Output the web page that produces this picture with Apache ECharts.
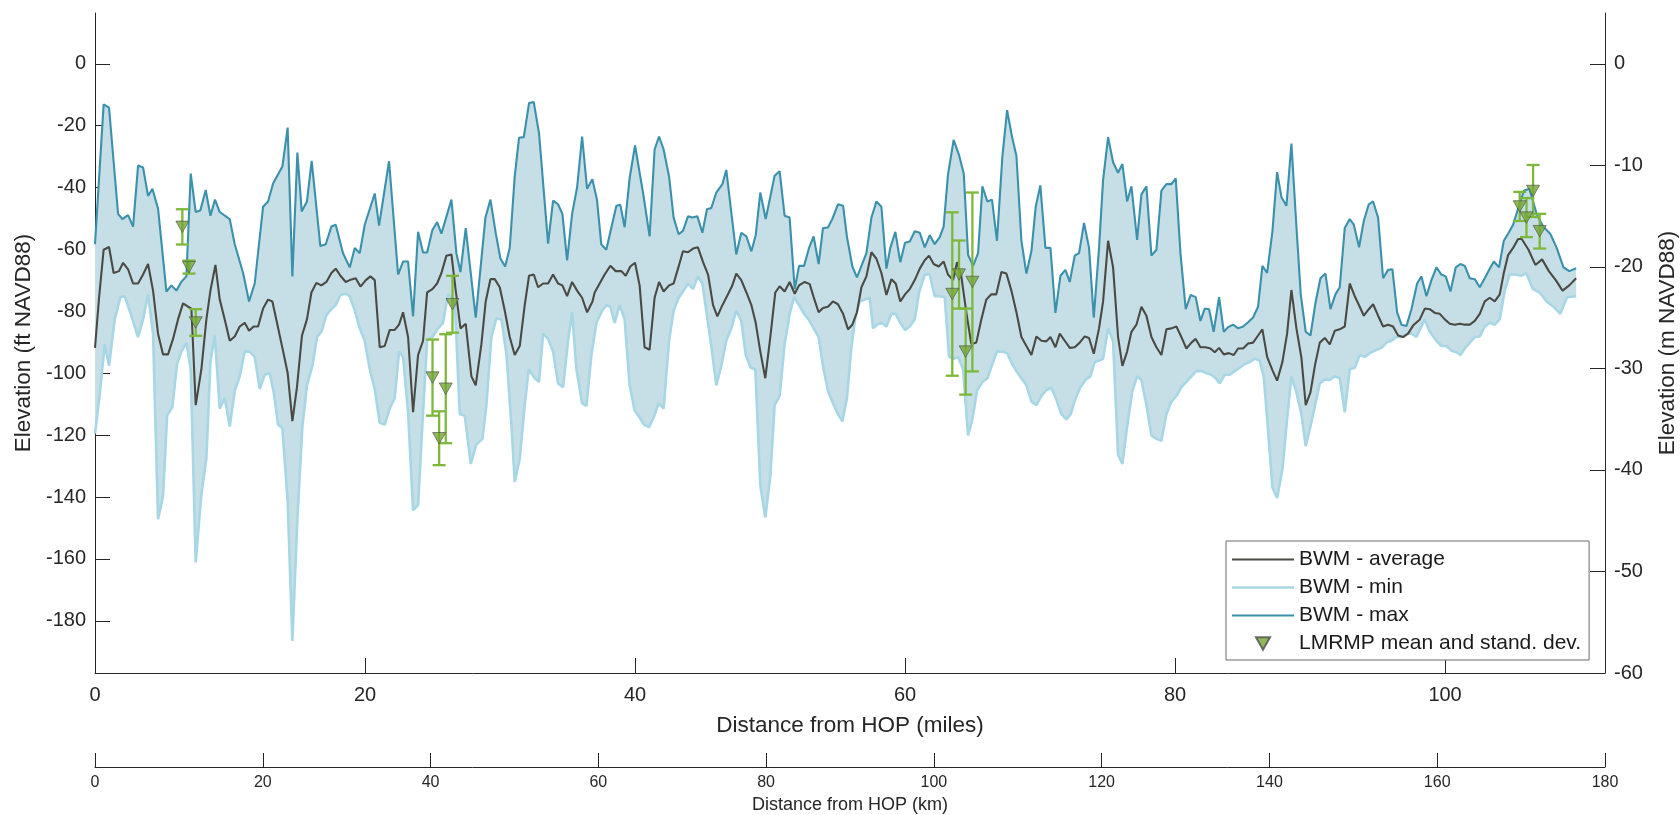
<!DOCTYPE html>
<html><head><meta charset="utf-8">
<script src="https://cdn.jsdelivr.net/npm/echarts@6/dist/echarts.min.js"></script>
<style>html,body{margin:0;padding:0;background:#fff}#c{width:1680px;height:815px}</style>
</head><body><div id="c"></div>
<script>
// ---- data (miles / feet) ----
const maxMi = [0,0.64,1.04,1.71,2.03,2.45,2.82,3.19,3.56,3.93,4.25,4.67,5.29,5.66,6.03,6.40,6.77,7.09,7.46,7.80,8.20,8.55,8.89,9.24,9.98,10.35,10.97,11.41,11.83,12.45,12.82,13.19,13.88,14.27,14.62,14.99,15.31,15.70,16.05,16.69,17.09,17.51,17.83,18.37,18.87,19.24,19.61,19.98,20.72,21.04,21.78,22.45,22.82,23.19,23.56,23.93,24.30,24.60,24.99,25.34,25.66,26.40,26.77,27.07,27.46,28.20,28.92,29.29,29.69,30.03,30.38,30.72,31.09,31.41,31.76,32.15,32.50,32.89,33.56,33.93,34.30,34.62,34.97,35.34,35.71,36.08,36.45,36.84,37.18,37.50,37.87,38.24,38.62,38.91,39.23,39.60,40.00,40.59,41.08,41.45,41.78,42.12,42.52,42.86,43.23,43.55,43.92,44.25,44.62,44.99,45.33,45.65,46.02,46.47,46.76,47.13,47.50,47.87,48.25,48.62,48.94,49.28,49.68,50.34,50.71,51.08,51.45,51.83,52.15,52.52,52.89,53.23,53.60,53.92,54.29,54.61,55.03,55.41,55.70,56.10,56.44,56.77,57.14,57.51,57.88,58.25,58.62,58.91,59.28,59.65,60.00,60.35,60.72,61.09,61.46,61.83,62.20,62.57,62.86,63.18,63.60,64.00,64.35,64.67,65.04,65.41,65.73,66.10,66.44,66.81,67.21,67.56,67.93,68.25,68.62,68.99,69.36,69.68,70.02,70.40,70.77,71.14,71.51,71.88,72.20,72.57,72.89,73.26,73.63,73.98,74.37,74.67,75.04,75.41,75.78,76.10,76.45,76.77,77.19,77.51,77.88,78.25,78.62,78.99,79.36,79.73,80.05,80.40,80.79,81.16,81.53,81.88,82.20,82.52,82.86,83.26,83.61,83.93,84.30,84.67,85.04,85.41,85.78,86.15,86.47,86.82,87.21,87.56,87.88,88.25,88.62,88.99,89.31,89.68,90.03,90.42,90.77,91.14,91.51,91.88,92.20,92.57,92.94,93.24,93.63,93.98,94.35,94.67,95.04,95.41,95.78,96.10,96.45,96.77,97.14,97.51,97.93,98.25,98.62,98.99,99.36,99.73,100.05,100.40,100.79,101.14,101.46,101.83,102.20,102.57,102.94,103.31,103.61,104.00,104.35,104.67,105.04,105.41,105.84,106.25,106.78,107.26,107.79,108.27,108.77,109.20,109.71];
const maxFt = [-58.3,-13.1,-14.2,-48.5,-50.2,-48.9,-52.6,-32.9,-33.5,-42.7,-40.4,-46.8,-73.6,-71.6,-73.3,-70.4,-68.7,-35.5,-47.9,-47.4,-40.8,-49.1,-43.9,-47.9,-50.2,-58.3,-67.6,-76.8,-71.0,-46.2,-44.5,-38.7,-33.2,-20.6,-68.7,-28.7,-47.7,-44.5,-31.4,-58.9,-58.3,-52.6,-52.0,-61.2,-65.8,-59.5,-61.2,-52.0,-41.9,-52.3,-31.5,-68.1,-63.9,-63.9,-81.6,-54.3,-61.0,-61.0,-53.7,-51.2,-54.9,-43.9,-61.2,-67.3,-53.1,-82.0,-49.7,-43.9,-54.9,-62.9,-65.5,-59.5,-36.4,-23.9,-23.7,-12.7,-12.4,-22.5,-58.1,-44.2,-45.4,-48.5,-63.5,-48.5,-39.9,-23.5,-40.4,-37.3,-43.9,-58.3,-60.1,-53.1,-45.9,-45.6,-52.8,-37.0,-26.4,-41.6,-55.8,-27.7,-23.5,-27.7,-36.4,-49.7,-55.1,-54.0,-49.3,-49.7,-49.3,-54.6,-47.0,-46.6,-41.6,-38.9,-34.3,-47.9,-61.6,-54.6,-55.8,-60.6,-55.4,-41.6,-50.2,-36.2,-34.7,-49.1,-49.7,-72.8,-65.3,-65.3,-59.5,-55.8,-64.7,-53.1,-52.9,-50.2,-45.4,-45.9,-56.0,-65.5,-69.0,-65.3,-61.2,-49.7,-44.5,-46.2,-66.2,-59.5,-54.3,-64.1,-57.8,-57.4,-54.1,-54.6,-59.3,-55.4,-58.3,-56.0,-52.6,-35.8,-24.6,-29.5,-35.5,-61.8,-65.3,-61.2,-39.6,-44.5,-43.9,-57.2,-30.0,-15.0,-23.7,-29.7,-57.2,-67.8,-60.6,-46.2,-39.3,-59.5,-59.5,-80.5,-68.5,-66.6,-70.5,-62.0,-61.2,-51.4,-59.5,-82.0,-59.5,-37.6,-23.7,-31.8,-35.2,-32.4,-44.5,-39.6,-56.9,-42.2,-39.6,-62.0,-60.1,-41.0,-38.9,-38.9,-37.0,-61.2,-79.3,-74.7,-75.4,-83.1,-79.1,-79.3,-86.6,-75.4,-86.6,-85.1,-84.3,-85.5,-84.9,-83.5,-82.0,-78.5,-65.3,-67.6,-54.3,-35.0,-43.1,-45.9,-25.8,-52.6,-74.5,-86.6,-87.8,-76.8,-69.3,-67.8,-79.3,-74.5,-72.2,-53.1,-50.2,-52.0,-59.3,-50.8,-45.4,-44.5,-49.7,-69.3,-66.6,-66.4,-80.3,-84.3,-84.7,-79.3,-71.0,-68.7,-75.1,-69.9,-65.8,-68.1,-68.7,-73.6,-65.8,-64.7,-65.3,-69.3,-69.6,-72.2,-69.3,-66.2,-63.9,-65.8,-57.2,-54.9,-52.0,-46.8,-41.0,-40.4,-48.5,-52.6,-54.9,-59.5,-65.8,-67.0,-66.1];

const minMi = [0,0.35,0.72,1.04,1.46,1.88,2.20,2.69,3.19,3.56,3.93,4.30,4.67,5.04,5.34,5.73,6.08,6.40,6.77,7.09,7.46,7.88,8.25,8.55,8.87,9.24,9.61,9.98,10.35,10.72,11.09,11.46,11.83,12.20,12.57,12.94,13.24,13.56,13.88,14.27,14.62,14.99,15.36,15.70,16.10,16.45,16.77,17.14,17.51,17.83,18.18,18.57,18.87,19.24,19.61,19.98,20.35,20.72,21.09,21.46,21.83,22.20,22.52,22.82,23.19,23.56,23.93,24.25,24.60,24.99,25.41,25.78,26.15,26.65,27.02,27.39,27.83,28.25,28.70,28.99,29.36,29.73,30.11,30.48,30.85,31.09,31.46,31.83,32.13,32.57,32.89,33.19,33.56,33.93,34.30,34.67,35.04,35.34,35.66,36.08,36.40,36.77,37.14,37.58,37.87,38.17,38.49,38.86,39.23,39.60,39.97,40.29,40.66,41.04,41.38,41.75,42.12,42.52,42.86,43.23,43.60,43.92,44.30,44.66,44.99,45.33,45.65,46.02,46.39,46.76,47.13,47.50,47.87,48.20,48.57,48.91,49.28,49.65,50.02,50.34,50.71,51.08,51.45,51.78,52.15,52.52,52.86,53.23,53.60,53.92,54.29,54.66,55.03,55.36,55.70,56.02,56.34,56.64,57.01,57.38,57.63,57.93,58.25,58.62,58.99,59.31,59.65,60.00,60.35,60.72,61.04,61.46,61.83,62.20,62.57,62.94,63.26,63.60,63.93,64.30,64.67,64.99,65.33,65.73,66.10,66.47,66.81,67.21,67.56,67.93,68.25,68.62,68.99,69.36,69.73,70.10,70.47,70.84,71.21,71.58,71.95,72.27,72.64,72.99,73.36,73.73,74.05,74.37,74.67,75.04,75.41,75.78,76.10,76.45,76.84,77.19,77.51,77.88,78.25,78.62,78.99,79.36,79.73,80.10,80.47,80.84,81.21,81.58,81.95,82.32,82.69,83.01,83.31,83.68,84.05,84.42,84.79,85.16,85.53,85.90,86.27,86.57,86.89,87.21,87.56,87.95,88.30,88.62,88.99,89.36,89.68,90.03,90.37,90.72,91.09,91.46,91.83,92.20,92.57,92.94,93.31,93.68,94.05,94.42,94.92,95.29,95.66,96.03,96.40,96.77,97.14,97.51,97.88,98.50,98.87,99.36,99.73,100.10,100.47,100.84,101.14,101.46,101.83,102.20,102.57,102.94,103.31,103.68,104.05,104.42,104.79,105.16,105.68,106.01,106.51,107.01,107.52,108.03,108.54,109.04,109.71];
const minFt = [-119.5,-106.8,-90.6,-97.6,-82.6,-75.4,-75.1,-81.4,-88.3,-82.6,-74.5,-87.2,-147.2,-139.7,-113.7,-110.9,-97.0,-93.0,-90.1,-98.7,-161.1,-139.1,-127.6,-96.4,-87.8,-111.4,-108.0,-117.2,-105.7,-101.0,-93.0,-93.0,-94.7,-105.1,-100.5,-99.9,-106.2,-116.6,-117.8,-141.4,-186.5,-147.2,-117.2,-103.9,-97.6,-88.3,-86.6,-81.2,-79.3,-78.0,-74.7,-74.3,-75.1,-79.7,-85.5,-89.5,-98.7,-105.1,-116.0,-116.6,-111.4,-108.0,-93.0,-94.7,-112.6,-144.3,-142.6,-116.6,-89.5,-88.3,-85.5,-83.7,-74.5,-76.8,-113.2,-113.7,-129.3,-123.0,-121.2,-110.3,-88.3,-82.3,-82.6,-94.1,-117.2,-135.1,-127.6,-110.3,-98.7,-101.6,-102.8,-87.2,-88.9,-93.0,-103.3,-104.5,-89.5,-80.3,-98.7,-109.7,-110.5,-94.1,-83.7,-79.7,-78.0,-78.5,-83.7,-78.0,-82.6,-103.9,-112.0,-114.0,-116.6,-117.4,-114.3,-109.7,-111.4,-89.5,-79.7,-75.7,-73.3,-71.0,-72.8,-68.7,-71.0,-81.4,-91.2,-103.9,-97.6,-89.5,-85.5,-79.7,-83.1,-94.1,-98.2,-98.7,-136.2,-146.6,-133.4,-110.3,-107.4,-90.6,-80.8,-75.4,-78.0,-80.8,-82.6,-85.5,-88.3,-97.6,-105.7,-109.7,-113.2,-115.5,-108.0,-91.8,-81.4,-76.8,-76.2,-75.6,-85.5,-84.3,-83.7,-84.9,-80.8,-80.8,-83.7,-86.0,-84.9,-82.6,-73.9,-68.1,-68.1,-75.1,-75.1,-75.4,-94.7,-95.3,-94.7,-98.7,-120.1,-114.9,-105.7,-102.8,-101.6,-97.0,-93.0,-93.0,-93.5,-97.0,-99.3,-101.6,-103.9,-109.1,-110.3,-107.4,-105.4,-104.7,-108.5,-113.2,-114.9,-113.2,-108.0,-104.5,-102.2,-101.0,-96.4,-95.9,-95.3,-85.5,-89.5,-126.4,-129.3,-117.2,-105.7,-101.0,-102.2,-110.3,-120.1,-121.2,-121.8,-113.2,-109.1,-107.4,-104.5,-102.8,-101.0,-99.3,-99.3,-99.9,-100.5,-101.6,-103.3,-100.5,-100.5,-99.3,-98.2,-97.0,-96.4,-95.3,-95.9,-101.0,-118.4,-136.8,-140.3,-131.1,-114.9,-101.0,-106.2,-113.2,-123.6,-117.2,-110.3,-103.3,-102.0,-102.2,-101.0,-101.6,-112.6,-98.7,-98.2,-94.1,-94.7,-93.5,-92.4,-91.8,-90.1,-89.5,-88.3,-88.3,-87.2,-87.2,-88.3,-82.6,-86.6,-89.5,-91.2,-91.2,-92.7,-93.2,-94.1,-92.0,-90.1,-88.3,-88.1,-84.9,-83.7,-84.3,-82.6,-73.3,-68.1,-68.1,-68.5,-67.6,-72.8,-73.9,-76.8,-78.5,-80.8,-75.4,-75.1];

const avgMi = [0,0.30,0.64,1.04,1.38,1.78,2.08,2.45,2.82,3.19,3.56,3.93,4.30,4.67,5.04,5.41,5.78,6.15,6.52,6.89,7.14,7.46,7.88,8.25,8.55,8.92,9.24,9.61,9.98,10.35,10.72,11.09,11.41,11.75,12.08,12.45,12.82,13.14,13.48,13.88,14.27,14.62,14.96,15.33,15.70,16.03,16.40,16.77,17.14,17.51,17.83,18.18,18.57,18.87,19.31,19.66,20.06,20.40,20.72,21.09,21.46,21.83,22.20,22.52,22.82,23.19,23.56,23.93,24.30,24.60,24.99,25.34,25.66,26.03,26.40,26.72,27.07,27.46,27.88,28.20,28.62,28.94,29.29,29.61,29.98,30.35,30.72,31.09,31.46,31.83,32.15,32.50,32.82,33.19,33.56,33.93,34.30,34.62,34.97,35.34,35.71,36.08,36.45,36.85,37.01,37.38,37.75,38.17,38.57,38.99,39.31,39.65,40.00,40.34,40.71,41.08,41.45,41.78,42.12,42.52,42.86,43.21,43.55,43.92,44.30,44.66,45.04,45.41,45.78,46.10,46.47,46.81,47.18,47.50,47.87,48.25,48.62,48.94,49.28,49.65,50.02,50.39,50.71,51.08,51.45,51.83,52.15,52.57,52.94,53.23,53.60,53.92,54.29,54.66,55.03,55.41,55.78,56.10,56.44,56.77,57.14,57.51,57.88,58.25,58.62,58.99,59.31,59.65,60.00,60.35,60.72,61.09,61.46,61.78,62.12,62.49,62.86,63.18,63.56,63.85,64.17,64.54,64.91,65.28,65.65,66.02,66.39,66.76,67.14,67.51,67.88,68.25,68.62,68.99,69.36,69.73,70.10,70.47,70.77,71.14,71.46,71.83,72.20,72.57,72.94,73.31,73.63,73.98,74.37,74.67,75.04,75.41,75.78,76.10,76.45,76.77,77.14,77.51,77.88,78.25,78.62,78.99,79.36,79.73,80.10,80.47,80.84,81.21,81.53,81.88,82.27,82.62,82.94,83.26,83.61,83.99,84.35,84.67,85.04,85.41,85.78,86.15,86.47,86.82,87.21,87.56,87.95,88.30,88.62,88.99,89.36,89.68,90.03,90.37,90.72,91.09,91.46,91.83,92.20,92.57,92.94,93.31,93.68,93.98,94.35,94.67,95.04,95.41,95.78,96.15,96.52,96.89,97.26,97.63,98.13,98.50,98.87,99.24,99.61,99.98,100.35,100.72,101.09,101.46,101.83,102.20,102.57,102.94,103.31,103.68,104.05,104.35,104.67,105.04,105.41,105.68,106.18,106.69,107.19,107.69,108.20,108.70,109.20,109.71];
const avgFt = [-91.8,-75.6,-60.1,-59.2,-67.6,-67.0,-64.3,-66.4,-71.0,-71.0,-68.1,-64.7,-73.3,-87.2,-93.9,-93.9,-88.9,-82.6,-77.4,-78.5,-79.1,-110.3,-98.7,-82.6,-73.3,-65.0,-76.2,-82.6,-89.5,-88.1,-84.9,-83.7,-86.3,-84.9,-84.9,-79.1,-76.2,-76.8,-83.7,-91.8,-99.9,-115.5,-104.5,-87.8,-82.6,-73.9,-70.8,-71.6,-70.5,-67.6,-66.2,-68.5,-70.5,-69.9,-69.3,-72.0,-69.9,-68.7,-69.9,-91.6,-91.2,-86.0,-86.0,-84.3,-80.3,-88.3,-112.6,-94.1,-89.5,-73.9,-72.8,-71.0,-67.6,-62.0,-61.6,-73.3,-85.5,-84.0,-101.0,-103.9,-90.6,-76.8,-69.6,-69.6,-72.2,-79.7,-88.3,-94.1,-91.2,-78.0,-68.5,-68.1,-72.2,-71.0,-71.0,-68.1,-71.0,-71.6,-75.1,-70.5,-73.3,-75.6,-80.3,-76.8,-73.9,-71.0,-68.1,-65.3,-67.0,-67.0,-68.5,-65.5,-64.3,-71.6,-91.6,-92.4,-75.6,-70.5,-73.6,-71.6,-71.0,-65.8,-60.6,-60.9,-59.7,-59.3,-64.1,-68.1,-78.0,-81.6,-78.0,-75.1,-71.9,-67.8,-69.9,-73.9,-78.0,-83.7,-93.0,-101.6,-88.3,-73.9,-71.9,-73.6,-70.5,-74.3,-71.6,-70.5,-71.2,-75.4,-80.3,-78.9,-78.5,-76.8,-77.7,-80.8,-85.8,-84.3,-80.3,-72.2,-68.7,-60.9,-63.0,-67.6,-74.7,-69.6,-71.0,-76.8,-74.5,-72.8,-69.9,-66.2,-63.5,-62.0,-64.7,-65.5,-63.9,-68.1,-69.9,-64.1,-68.7,-80.3,-90.6,-90.1,-82.6,-76.2,-74.5,-74.5,-67.3,-67.8,-73.3,-80.3,-88.3,-91.2,-94.1,-88.1,-89.5,-89.7,-88.3,-91.6,-87.2,-89.5,-91.8,-91.6,-90.1,-88.1,-88.6,-93.7,-85.5,-76.8,-57.2,-65.8,-88.3,-97.6,-93.0,-86.6,-84.3,-78.5,-81.4,-88.3,-91.6,-94.1,-85.8,-85.5,-84.9,-88.3,-92.0,-90.1,-88.9,-91.6,-91.6,-92.0,-93.2,-91.8,-93.9,-93.5,-94.1,-92.0,-92.0,-90.4,-90.1,-87.8,-85.8,-94.7,-99.0,-102.4,-96.4,-87.2,-73.1,-85.5,-95.0,-110.3,-106.2,-97.3,-90.1,-88.6,-90.7,-86.3,-85.8,-84.9,-71.0,-75.1,-78.5,-81.4,-79.3,-77.7,-81.4,-84.9,-84.3,-84.9,-87.8,-88.3,-87.2,-84.6,-82.6,-79.1,-79.3,-80.5,-80.8,-82.6,-84.0,-84.3,-84.0,-84.3,-84.3,-83.1,-80.8,-76.8,-75.6,-76.8,-74.5,-67.6,-61.8,-59.5,-56.6,-56.6,-60.1,-65.0,-63.2,-67.0,-69.9,-73.3,-71.6,-69.3];

const lmMi   = [6.47, 6.96, 7.46, 25.00, 25.49, 25.98, 26.48, 63.50, 64.00, 64.49, 64.99, 105.53, 106.03, 106.52, 107.01];
const lmMean = [-52.7, -65.7, -83.6, -101.4, -121.0, -105.0, -77.7, -74.4, -68.1, -93.0, -70.5, -46.1, -49.7, -41.1, -54.1];
const lmStd  = [5.7, 2.1, 4.3, 12.3, 8.7, 17.6, 9.2, 26.4, 11.0, 13.9, 28.9, 4.7, 6.3, 8.4, 5.6];

const ftTicks   = [-180, -160, -140, -120, -100, -80, -60, -40, -20, 0];
const mTicks    = [-60, -50, -40, -30, -20, -10, 0];
const mileTicks = [0, 20, 40, 60, 80, 100];
const kmTicks   = [0, 20, 40, 60, 80, 100, 120, 140, 160, 180];
const FT_PER_M = 3.28084, KM_PER_MI = 1.609344;
const M_RANGE = [-60, 5], KM_RANGE = [0, 180];

const names = ['BWM - average', 'BWM - min', 'BWM - max', 'LMRMP mean and stand. dev.'];

// ---- chart ----
const FONT = "'Liberation Sans', Arial, Helvetica, sans-serif";
const AX = '#262626';
const C_AVG = '#4a4a43', C_MIN = '#a7d6e5', C_MAX = '#3b90ab', C_BAND = '#c6dfe7';
const C_BAR = '#7db83a', C_TRI = '#73a632';
const zip = (a, b) => a.map((v, i) => [v, b[i]]);
const chart = echarts.init(document.getElementById('c'), null, {renderer: 'canvas'});

function yAxisCfg(pos, min, max, ticks, name, gap) {
  return {
    type: 'value', position: pos, min: min, max: max,
    name: name, nameLocation: 'middle', nameGap: gap, nameRotate: 90,
    nameTextStyle: {fontSize: 22.5, color: AX, fontFamily: FONT},
    axisLine: {show: true, onZero: false, lineStyle: {color: AX, width: 1}},
    axisTick: {show: true, inside: true, length: 15, customValues: ticks, lineStyle: {color: AX, width: 1}},
    axisLabel: {customValues: ticks, fontSize: 20, color: AX, fontFamily: FONT, margin: 9},
    splitLine: {show: false}
  };
}

const lineIcon = h => 'path://M0,0H62V' + h + 'H0Z';
const option = {
  animation: false,
  backgroundColor: '#fff',
  grid: {left: 95, right: 75, top: 13, bottom: 142, containLabel: false, outerBoundsMode: 'none'},
  legend: {
    data: [
      {name: names[0], icon: lineIcon(2.1)},
      {name: names[1], icon: lineIcon(2.6)},
      {name: names[2], icon: lineIcon(2.1)},
      {name: names[3], icon: 'path://M0,0H13L6.5,11.5Z'}
    ],
    orient: 'vertical', left: 1226, top: 541,
    padding: [8, 8, 6, 6], itemGap: 7, itemWidth: 62, itemHeight: 12.5,
    backgroundColor: '#fff', borderColor: '#6b6b6b', borderWidth: 1, borderRadius: 0,
    textStyle: {fontSize: 21, color: '#1a1a1a', fontFamily: FONT, lineHeight: 20},
    selectedMode: false
  },
  xAxis: [
    {
      type: 'value', position: 'bottom', min: 0, max: KM_RANGE[1] / KM_PER_MI,
      name: 'Distance from HOP (miles)', nameLocation: 'middle', nameGap: 41,
      nameTextStyle: {fontSize: 22.5, color: AX, fontFamily: FONT},
      axisLine: {show: true, onZero: false, lineStyle: {color: AX, width: 1}},
      axisTick: {show: true, inside: true, length: 15, customValues: mileTicks, lineStyle: {color: AX}},
      axisLabel: {customValues: mileTicks, fontSize: 20, color: AX, fontFamily: FONT, margin: 12},
      splitLine: {show: false}
    },
    {
      type: 'value', position: 'bottom', offset: 94, min: KM_RANGE[0], max: KM_RANGE[1],
      name: 'Distance from HOP (km)', nameLocation: 'middle', nameGap: 29,
      nameTextStyle: {fontSize: 18, color: AX, fontFamily: FONT},
      axisLine: {show: true, onZero: false, lineStyle: {color: AX, width: 1}},
      axisTick: {show: true, inside: true, length: 14, customValues: kmTicks, lineStyle: {color: AX}},
      axisLabel: {customValues: kmTicks, fontSize: 16, color: AX, fontFamily: FONT, margin: 8},
      splitLine: {show: false}
    }
  ],
  yAxis: [
    yAxisCfg('left', M_RANGE[0] * FT_PER_M, M_RANGE[1] * FT_PER_M, ftTicks, 'Elevation (ft NAVD88)', 58),
    yAxisCfg('right', M_RANGE[0], M_RANGE[1], mTicks, 'Elevation (m NAVD88)', 51)
  ],
  series: [
    {
      type: 'custom', name: 'band', xAxisIndex: 0, yAxisIndex: 0, silent: true, z: 1,
      data: [[0, 0]],
      renderItem: function (params, api) {
        const pts = [];
        for (let i = 0; i < maxMi.length; i++) pts.push(api.coord([maxMi[i], maxFt[i]]));
        for (let i = minMi.length - 1; i >= 0; i--) pts.push(api.coord([minMi[i], minFt[i]]));
        return {type: 'polygon', shape: {points: pts}, style: {fill: C_BAND, stroke: null}};
      }
    },
    {
      type: 'line', name: names[1], data: zip(minMi, minFt), xAxisIndex: 0, yAxisIndex: 0,
      symbol: 'none', showSymbol: false, z: 2,
      lineStyle: {color: C_MIN, width: 2.6}, itemStyle: {color: C_MIN}
    },
    {
      type: 'line', name: names[2], data: zip(maxMi, maxFt), xAxisIndex: 0, yAxisIndex: 0,
      symbol: 'none', showSymbol: false, z: 3,
      lineStyle: {color: C_MAX, width: 2.1}, itemStyle: {color: C_MAX}
    },
    {
      type: 'line', name: names[0], data: zip(avgMi, avgFt), xAxisIndex: 0, yAxisIndex: 0,
      symbol: 'none', showSymbol: false, z: 4,
      lineStyle: {color: C_AVG, width: 2.1}, itemStyle: {color: C_AVG}
    },
    {
      type: 'custom', name: 'errbars', xAxisIndex: 0, yAxisIndex: 0, silent: true, z: 5,
      dimensions: ['x', 'mean', 'std'], encode: {x: 0, y: 1},
      data: lmMi.map((x, i) => [x, lmMean[i], lmStd[i]]),
      renderItem: function (params, api) {
        const x = api.value(0), m = api.value(1), s = api.value(2);
        const top = api.coord([x, m + s]), bot = api.coord([x, m - s]);
        const hw = 6.5;
        const st = {stroke: C_BAR, lineWidth: 2.3, fill: null};
        return {type: 'group', children: [
          {type: 'line', shape: {x1: top[0], y1: top[1], x2: bot[0], y2: bot[1]}, style: st},
          {type: 'line', shape: {x1: top[0] - hw, y1: top[1], x2: top[0] + hw, y2: top[1]}, style: st},
          {type: 'line', shape: {x1: bot[0] - hw, y1: bot[1], x2: bot[0] + hw, y2: bot[1]}, style: st}
        ]};
      }
    },
    {
      type: 'scatter', name: names[3], data: zip(lmMi, lmMean), xAxisIndex: 0, yAxisIndex: 0, z: 6,
      symbol: 'triangle', symbolRotate: 180, symbolSize: [13, 11.5],
      itemStyle: {color: C_TRI, borderColor: '#4f4f4f', borderWidth: 0.8}
    }
  ]
};
chart.setOption(option);
</script>
</body></html>
